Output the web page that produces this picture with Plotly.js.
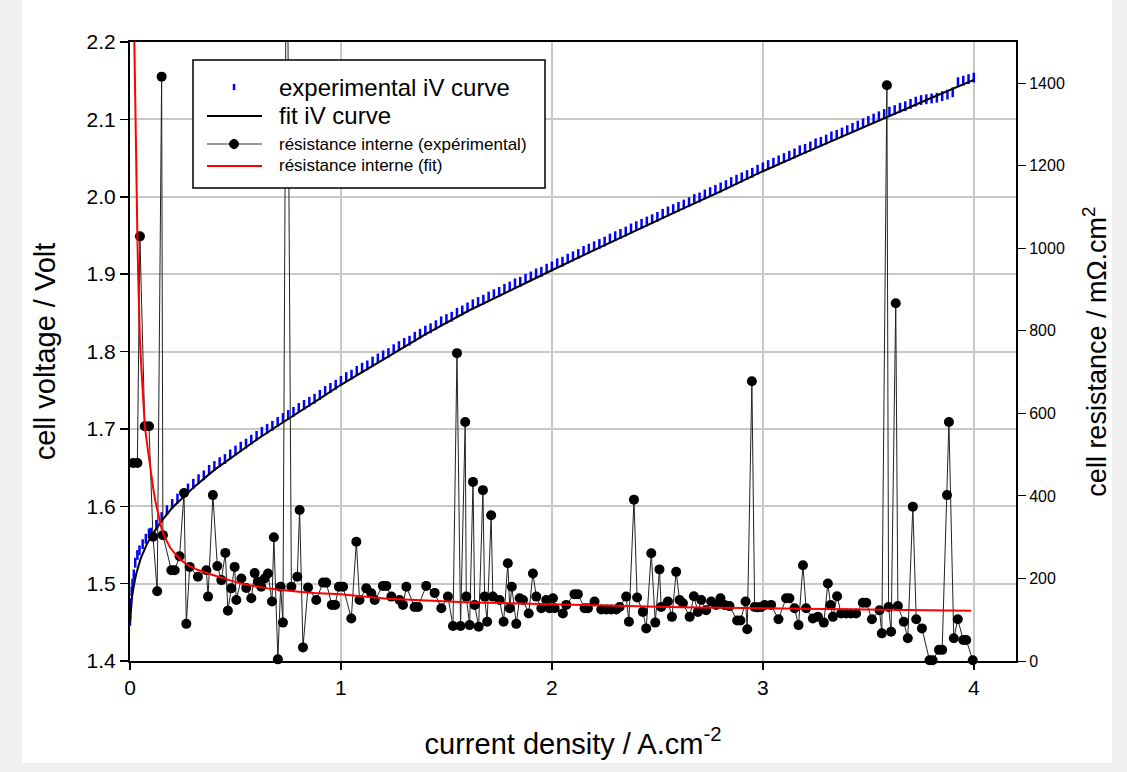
<!DOCTYPE html>
<html>
<head>
<meta charset="utf-8">
<script src="https://cdn.plot.ly/plotly-3.0.1.min.js"></script>
<style>
  html, body { margin: 0; padding: 0; background: #f0f0f0; }
  #chart { position: absolute; left: 22px; top: 0; width: 1090px; height: 763px; background: #fff; }
</style>
</head>
<body>
<div id="chart"></div>
<script>
// Polarisation curve: current density (A/cm2) vs. cell voltage (V)
const expI = [0, 0.004, 0.008, 0.012, 0.018, 0.025, 0.035, 0.045, 0.06, 0.075, 0.09,
  0.100, 0.125, 0.150, 0.175, 0.200, 0.225, 0.250, 0.275, 0.300, 0.325, 0.350, 0.375, 0.400, 0.425, 0.450, 0.475,
  0.500, 0.525, 0.550, 0.575, 0.600, 0.625, 0.650, 0.675, 0.700, 0.725, 0.750, 0.775, 0.800, 0.825, 0.850, 0.875,
  0.900, 0.925, 0.950, 0.975, 1.000, 1.025, 1.050, 1.075, 1.100, 1.125, 1.150, 1.175, 1.200, 1.225, 1.250, 1.275,
  1.300, 1.325, 1.350, 1.375, 1.400, 1.425, 1.450, 1.475, 1.500, 1.525, 1.550, 1.575, 1.600, 1.625, 1.650, 1.675,
  1.700, 1.725, 1.750, 1.775, 1.800, 1.825, 1.850, 1.875, 1.900, 1.925, 1.950, 1.975, 2.000, 2.025, 2.050, 2.075,
  2.100, 2.125, 2.150, 2.175, 2.200, 2.225, 2.250, 2.275, 2.300, 2.325, 2.350, 2.375, 2.400, 2.425, 2.450, 2.475,
  2.500, 2.525, 2.550, 2.575, 2.600, 2.625, 2.650, 2.675, 2.700, 2.725, 2.750, 2.775, 2.800, 2.825, 2.850, 2.875,
  2.900, 2.925, 2.950, 2.975, 3.000, 3.025, 3.050, 3.075, 3.100, 3.125, 3.150, 3.175, 3.200, 3.225, 3.250, 3.275,
  3.300, 3.325, 3.350, 3.375, 3.400, 3.425, 3.450, 3.475, 3.500, 3.525, 3.550, 3.575, 3.600, 3.625, 3.650, 3.675,
  3.700, 3.725, 3.750, 3.775, 3.800, 3.825, 3.850, 3.875, 3.900, 3.925, 3.950, 3.975, 4.000];
const expV = [1.452, 1.475, 1.490, 1.500, 1.512, 1.527, 1.537, 1.543, 1.551, 1.558, 1.565,
  1.566, 1.576, 1.586, 1.595, 1.603, 1.610, 1.616, 1.623, 1.629, 1.635, 1.640, 1.647, 1.652, 1.657, 1.661, 1.667,
  1.672, 1.677, 1.681, 1.686, 1.691, 1.696, 1.700, 1.704, 1.709, 1.714, 1.718, 1.722, 1.727, 1.731, 1.735, 1.739,
  1.744, 1.749, 1.753, 1.757, 1.762, 1.767, 1.770, 1.775, 1.779, 1.782, 1.787, 1.791, 1.795, 1.798, 1.803, 1.807,
  1.811, 1.814, 1.819, 1.823, 1.827, 1.830, 1.834, 1.839, 1.842, 1.845, 1.850, 1.853, 1.857, 1.861, 1.864, 1.867,
  1.871, 1.874, 1.877, 1.881, 1.884, 1.888, 1.890, 1.894, 1.897, 1.901, 1.903, 1.907, 1.910, 1.914, 1.916, 1.920,
  1.923, 1.926, 1.930, 1.933, 1.936, 1.939, 1.942, 1.946, 1.949, 1.952, 1.955, 1.959, 1.962, 1.965, 1.968, 1.971,
  1.974, 1.978, 1.981, 1.984, 1.987, 1.990, 1.993, 1.997, 1.999, 2.003, 2.006, 2.009, 2.012, 2.015, 2.019, 2.022,
  2.025, 2.028, 2.031, 2.035, 2.038, 2.041, 2.044, 2.047, 2.050, 2.053, 2.056, 2.060, 2.062, 2.065, 2.069, 2.071,
  2.074, 2.078, 2.080, 2.083, 2.086, 2.089, 2.092, 2.095, 2.098, 2.101, 2.104, 2.107, 2.110, 2.112, 2.115, 2.117,
  2.120, 2.123, 2.125, 2.126, 2.127, 2.128, 2.130, 2.132, 2.135, 2.148, 2.150, 2.152, 2.154];

// Fitted iV curve
const fitI = [0, 0.005, 0.01, 0.02, 0.03, 0.05, 0.08, 0.1, 0.15, 0.2, 0.3, 0.4, 0.5, 0.6, 0.7, 0.8, 0.9,
  1.0, 1.2, 1.4, 1.6, 1.8, 2.0, 2.2, 2.4, 2.6, 2.8, 3.0, 3.2, 3.4, 3.6, 3.8, 4.0];
const fitV = [1.450, 1.470, 1.484, 1.500, 1.513, 1.532, 1.551, 1.561, 1.581, 1.598, 1.624, 1.647, 1.667, 1.686,
  1.704, 1.721, 1.739, 1.757, 1.790, 1.822, 1.852, 1.879, 1.905, 1.931, 1.957, 1.982, 2.007, 2.033, 2.057,
  2.081, 2.105, 2.128, 2.151];

// Internal resistance from the experimental data (mOhm.cm2)
const resI = [0.015, 0.035, 0.047, 0.07, 0.09, 0.109, 0.129, 0.150, 0.156, 0.196, 0.212, 0.235, 0.256, 0.267,
  0.283, 0.322, 0.362, 0.370, 0.393, 0.414, 0.433, 0.452, 0.464, 0.480, 0.496, 0.504, 0.528, 0.551, 0.575,
  0.591, 0.607, 0.622, 0.638, 0.654, 0.673, 0.682, 0.701, 0.714, 0.725, 0.743, 0.765, 0.793, 0.804, 0.820,
  0.844, 0.883, 0.915, 0.930, 0.957, 0.972, 0.990, 1.010, 1.049, 1.073, 1.088, 1.120, 1.144, 1.160, 1.199,
  1.215, 1.239, 1.278, 1.294, 1.310, 1.349, 1.365, 1.404, 1.444, 1.476, 1.507, 1.531, 1.550, 1.567, 1.589,
  1.594, 1.610, 1.626, 1.634, 1.653, 1.673, 1.681, 1.693, 1.712, 1.720, 1.752, 1.771, 1.791, 1.800, 1.810,
  1.831, 1.847, 1.863, 1.890, 1.910, 1.926, 1.950, 1.973, 1.989, 2.005, 2.013, 2.052, 2.068, 2.107, 2.123,
  2.155, 2.171, 2.202, 2.234, 2.258, 2.281, 2.305, 2.321, 2.352, 2.365, 2.389, 2.404, 2.431, 2.447, 2.471,
  2.490, 2.510, 2.518, 2.550, 2.569, 2.589, 2.605, 2.621, 2.653, 2.673, 2.692, 2.708, 2.731, 2.755, 2.779,
  2.799, 2.818, 2.842, 2.878, 2.894, 2.918, 2.926, 2.948, 2.961, 2.976, 2.992, 3.008, 3.039, 3.074, 3.110,
  3.126, 3.150, 3.169, 3.190, 3.205, 3.237, 3.261, 3.289, 3.308, 3.321, 3.332, 3.352, 3.371, 3.395, 3.418,
  3.442, 3.474, 3.490, 3.517, 3.553, 3.564, 3.588, 3.596, 3.608, 3.630, 3.640, 3.668, 3.687, 3.711, 3.727,
  3.754, 3.790, 3.805, 3.835, 3.850, 3.873, 3.882, 3.905, 3.924, 3.950, 3.964, 3.995];
const resR = [480, 480, 1029, 569, 569, 301, 169, 1416, 305, 220, 220, 254, 407, 90,
  228, 204, 220, 156, 402, 230, 196, 262, 122, 176, 228, 148, 200, 177, 152,
  213, 192, 180, 200, 212, 144, 300, 4, 180, 93, 2000, 180, 204, 366, 33,
  178, 148, 190, 190, 136, 136, 180, 180, 103, 289, 148, 176, 164, 148, 182,
  182, 156, 148, 136, 180, 131, 131, 182, 165, 128, 156, 85, 746, 85, 579,
  156, 87, 434, 136, 83, 414, 156, 95, 353, 156, 148, 95, 237, 128, 180,
  90, 152, 148, 115, 212, 156, 128, 148, 128, 152, 128, 115, 136, 162, 162,
  128, 128, 144, 125, 125, 125, 125, 131, 156, 95, 391, 154, 119, 79, 261,
  93, 222, 131, 144, 107, 216, 148, 140, 107, 157, 119, 148, 123, 144, 136,
  152, 136, 133, 98, 98, 144, 77, 678, 131, 130, 131, 136, 136, 101, 152,
  152, 128, 87, 232, 128, 103, 107, 93, 188, 136, 107, 157, 115, 115, 115,
  115, 141, 141, 101, 123, 67, 1395, 131, 71, 867, 133, 95, 55, 374, 101,
  79, 2, 2, 27, 27, 402, 579, 55, 101, 51, 51, 2];

// Internal resistance from the fit (mOhm.cm2)
const rfitI = [0.013, 0.017, 0.021, 0.024, 0.028, 0.032, 0.035, 0.039, 0.043, 0.047, 0.055, 0.062, 0.07, 0.085,
  0.1, 0.109, 0.12, 0.133, 0.15, 0.164, 0.19, 0.212, 0.24, 0.275, 0.32, 0.37, 0.42, 0.464, 0.51, 0.559, 0.6,
  0.654, 0.7, 0.749, 0.8, 0.875, 0.94, 1.0, 1.07, 1.144, 1.22, 1.302, 1.38, 1.46, 1.54, 1.618, 1.7, 1.775,
  1.88, 1.997, 2.15, 2.297, 2.45, 2.613, 2.8, 2.992, 3.15, 3.292, 3.45, 3.656, 3.8, 3.987];
const rfitR = [1750, 1600, 1490, 1424, 1260, 1120, 1030, 930, 860, 777, 700, 632, 570, 511,
  450, 422, 388, 358, 320, 301, 275, 261, 245, 232, 221, 212, 204, 196, 190, 184, 180,
  176, 173, 170, 168, 165, 163, 162, 158, 154, 151, 149, 147, 145, 143, 142, 141, 140,
  139, 138, 136, 134, 132, 130, 129, 128, 127, 125, 124, 123, 123, 122];

const legendNames = ['experimental iV curve', 'fit iV curve',
  'résistance interne (expérimental)', 'résistance interne (fit)'];

const FONT = 'Arial, "Liberation Sans", sans-serif';

const traces = [
  {
    x: expI, y: expV, type: 'scatter', mode: 'markers', name: legendNames[0],
    marker: { symbol: 'line-ns-open', size: 7, color: '#0000ff', line: { color: '#0000ff', width: 2.5 } },
    showlegend: false
  },
  {
    x: fitI, y: fitV, type: 'scatter', mode: 'lines', name: legendNames[1],
    line: { color: '#000000', width: 2 }, showlegend: false
  },
  {
    x: resI, y: resR, yaxis: 'y2', type: 'scatter', mode: 'lines+markers', name: legendNames[2],
    line: { color: '#222222', width: 1 },
    marker: { symbol: 'circle', size: 10, color: '#000000' },
    cliponaxis: false, showlegend: false
  },
  {
    x: rfitI, y: rfitR, yaxis: 'y2', type: 'scatter', mode: 'lines', name: legendNames[3],
    line: { color: '#ff0000', width: 2 }, showlegend: false
  }
];

// Hand-built legend box (paper coordinates)
const lgX0 = 0.0711, lgX1 = 0.4684, lgY0 = 0.7641, lgY1 = 0.9709;
const symX0 = 0.0869, symX1 = 0.1490, symXc = 0.1174, txtX = 0.1659;
const rowY = [0.9273, 0.8805, 0.8352, 0.7997];
const dx = 0.0051, dy = 0.0073;

const shapes = [
  { type: 'rect', xref: 'paper', yref: 'paper', x0: lgX0, x1: lgX1, y0: lgY0, y1: lgY1,
    line: { color: '#000', width: 1.5 }, fillcolor: '#fff', layer: 'above' },
  { type: 'line', xref: 'paper', yref: 'paper', x0: symXc, x1: symXc, y0: rowY[0] - 0.005, y1: rowY[0] + 0.005,
    line: { color: '#0000ff', width: 2.5 }, layer: 'above' },
  { type: 'line', xref: 'paper', yref: 'paper', x0: symX0, x1: symX1, y0: rowY[1], y1: rowY[1],
    line: { color: '#000', width: 2 }, layer: 'above' },
  { type: 'line', xref: 'paper', yref: 'paper', x0: symX0, x1: symX1, y0: rowY[2], y1: rowY[2],
    line: { color: '#333', width: 1.2 }, layer: 'above' },
  { type: 'circle', xref: 'paper', yref: 'paper', x0: symXc - dx, x1: symXc + dx, y0: rowY[2] - dy, y1: rowY[2] + dy,
    line: { color: '#000', width: 1 }, fillcolor: '#000', layer: 'above' },
  { type: 'line', xref: 'paper', yref: 'paper', x0: symX0, x1: symX1, y0: rowY[3], y1: rowY[3],
    line: { color: '#ff0000', width: 2 }, layer: 'above' }
];

const legendSizes = [24, 24, 17, 17];
const annotations = legendNames.map((t, i) => ({
  xref: 'paper', yref: 'paper', x: txtX, y: rowY[i], xanchor: 'left', yanchor: 'middle',
  text: t, showarrow: false, font: { family: FONT, size: legendSizes[i], color: '#000' }
}));

const layout = {
  width: 1090, height: 763,
  margin: { l: 108, r: 96, t: 42, b: 102, pad: 0 },
  paper_bgcolor: '#ffffff', plot_bgcolor: '#ffffff',
  font: { family: FONT, color: '#000' },
  showlegend: false,
  xaxis: {
    range: [0, 4.2], tick0: 0, dtick: 1, tickmode: 'linear',
    showgrid: true, gridcolor: '#c8c8c8', gridwidth: 2, zeroline: false,
    showline: true, linecolor: '#000', linewidth: 2, mirror: true,
    ticks: 'outside', ticklen: 7, tickwidth: 1.5, tickcolor: '#000',
    tickfont: { family: FONT, size: 21 },
    title: { text: 'current density / A.cm<sup>-2</sup>', font: { family: FONT, size: 29 }, standoff: 35 }
  },
  yaxis: {
    range: [1.4, 2.2], tick0: 1.4, dtick: 0.1, tickmode: 'linear', tickformat: '.1f',
    showgrid: true, gridcolor: '#c8c8c8', gridwidth: 2, zeroline: false,
    showline: true, linecolor: '#000', linewidth: 2, mirror: true,
    ticks: 'outside', ticklen: 8, tickwidth: 1.5, tickcolor: '#000',
    tickfont: { family: FONT, size: 21 },
    title: { text: 'cell voltage / Volt', font: { family: FONT, size: 29 }, standoff: 22 }
  },
  yaxis2: {
    overlaying: 'y', side: 'right', anchor: 'x',
    range: [0, 1500], tick0: 0, dtick: 200, tickmode: 'linear',
    showgrid: false, zeroline: false,
    showline: true, linecolor: '#000', linewidth: 2,
    ticks: 'outside', ticklen: 8, tickwidth: 1, tickcolor: '#000',
    tickfont: { family: FONT, size: 16 },
    title: { text: 'cell resistance / mΩ.cm<sup>2</sup>', font: { family: FONT, size: 27 }, standoff: 30 }
  },
  shapes: shapes,
  annotations: annotations
};

Plotly.newPlot('chart', traces, layout, { displayModeBar: false, staticPlot: true });
</script>
</body>
</html>
